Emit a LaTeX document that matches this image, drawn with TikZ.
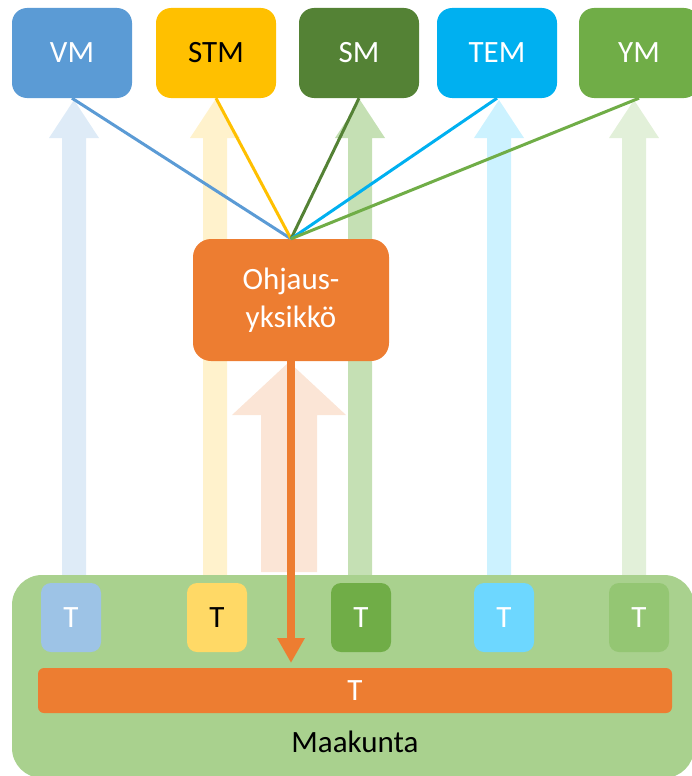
\documentclass[tikz,border=0pt]{standalone}
\usepackage{fontspec}
\setmainfont{Carlito}
\usetikzlibrary{arrows.meta}

\definecolor{vmcol}{HTML}{5B9BD5}
\definecolor{stmcol}{HTML}{FFC000}
\definecolor{smcol}{HTML}{548235}
\definecolor{temcol}{HTML}{00B0F0}
\definecolor{ymcol}{HTML}{70AD47}
\definecolor{ohjcol}{HTML}{ED7D31}
\definecolor{vmlight}{HTML}{DEEBF7}
\definecolor{stmlight}{HTML}{FFF2CC}
\definecolor{smlight}{HTML}{C5E0B4}
\definecolor{temlight}{HTML}{CCF2FF}
\definecolor{ymlight}{HTML}{E2F0D9}
\definecolor{ohjlight}{HTML}{FBE5D6}
\definecolor{maakcol}{HTML}{A9D18E}
\definecolor{tvm}{HTML}{9DC3E6}
\definecolor{tstm}{HTML}{FFD966}
\definecolor{tsm}{HTML}{70AD47}
\definecolor{ttem}{HTML}{6DD7FF}
\definecolor{tym}{HTML}{94C673}

\tikzset{
  ministry/.style={rounded corners=15pt, minimum width=120pt, minimum height=90pt, inner sep=0pt, text=white},
  tbox/.style={rounded corners=10pt, minimum width=60pt, minimum height=69pt, inner sep=0pt, text=white},
  link/.style={line width=3pt},
}

\begin{document}
\begin{tikzpicture}[x=1pt,y=-1pt,font=\fontsize{31}{38}\selectfont]
\useasboundingbox (0,0) rectangle (692,776);

%pale arrows up
\foreach \cx/\col in {74/vmlight, 215/stmlight, 360/smlight, 499/temlight, 634/ymlight}
  \fill[\col] (\cx-12,575) -- (\cx-12,138) -- (\cx-25,138) -- (\cx,100)
    -- (\cx+25,138) -- (\cx+12,138) -- (\cx+12,575) -- cycle;
\fill[ohjlight] (261,572) -- (261,415) -- (232,415) -- (289,362)
  -- (346,415) -- (317,415) -- (317,572) -- cycle;

%ministries
\node[ministry, fill=vmcol] (vm) at (72,53) {VM};
\node[ministry, fill=stmcol, text=black] (stm) at (216,53) {STM};
\node[ministry, fill=smcol] (sm) at (359,53) {SM};
\node[ministry, fill=temcol] (tem) at (497,53) {TEM};
\node[ministry, fill=ymcol] (ym) at (639,53) {YM};

\node[fill=ohjcol, text=white, rounded corners=18pt, minimum width=196pt,
  minimum height=122pt, inner sep=0pt, align=center] (ohj) at (291,300) {Ohjaus-\\yksikkö};

\draw[link, vmcol] (vm.south) -- (ohj.north);
\draw[link, stmcol] (stm.south) -- (ohj.north);
\draw[link, smcol] (sm.south) -- (ohj.north);
\draw[link, temcol] (tem.south) -- (ohj.north);
\draw[link, ymcol] (ym.south) -- (ohj.north);

%region
\node[fill=maakcol, rounded corners=30pt, minimum width=682pt, minimum height=203pt,
  inner sep=0pt] (maak) at (353,676.5) {};
\node (maaktext) at (355,742) {Maakunta};

\node[tbox, fill=tvm] (t1) at (71,617.5) {T};
\node[tbox, fill=tstm, text=black] (t2) at (217,617.5) {T};
\node[tbox, fill=tsm] (t3) at (361,617.5) {T};
\node[tbox, fill=ttem] (t4) at (504,617.5) {T};
\node[tbox, fill=tym] (t5) at (639,617.5) {T};
\node[fill=ohjcol, text=white, rounded corners=6pt, minimum width=634pt,
  minimum height=45pt, inner sep=0pt] (tbar) at (355,690.5) {T};

\coordinate (tip) at (ohj.south |- 0,663);
\draw[ohjcol, line width=8pt, -{Triangle[width=26pt,length=25pt]}] (ohj.south) -- (tip);
\end{tikzpicture}
\end{document}
